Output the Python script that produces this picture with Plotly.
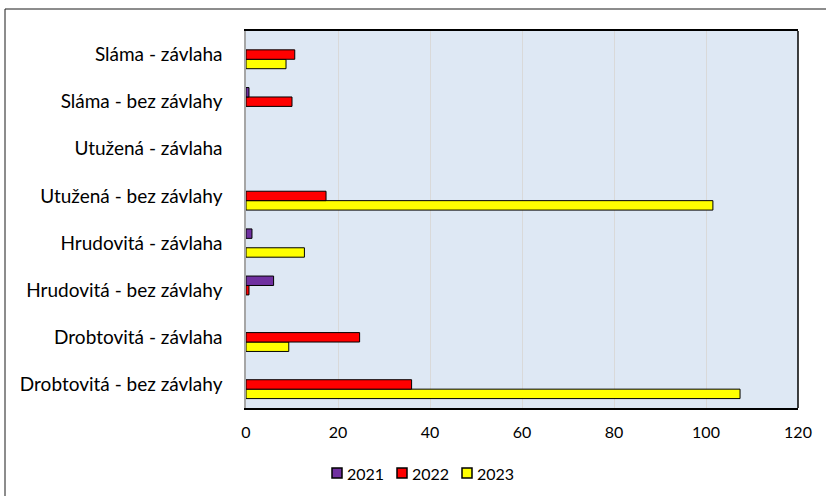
import plotly.graph_objects as go

categories = ["Drobtovitá - bez závlahy", "Drobtovitá - závlaha", "Hrudovitá - bez závlahy",
              "Hrudovitá - závlaha", "Utužená - bez závlahy", "Utužená - závlaha",
              "Sláma - bez závlahy", "Sláma - závlaha"]
v2021 = [None, None, 6.0, 1.3, None, None, 0.65, None]
v2022 = [36.0, 24.7, 0.65, None, 17.4, None, 10.0, 10.6]
v2023 = [107.4, 9.3, None, 12.7, 101.5, None, None, 8.7]
years = ["2021", "2022", "2023"]
colors = ["#7030A0", "#FF0000", "#FFFF00"]
series = [v2021, v2022, v2023]

fig = go.Figure()
for name, vals, col in reversed(list(zip(years, series, colors))):
    fig.add_trace(go.Bar(y=categories, x=vals, name=name, orientation="h", showlegend=False,
                         marker=dict(color=col, line=dict(color="black", width=1))))

W, H = 826, 496
L, R, T, B = 246, 28, 31, 88
pw, ph = W - L - R, H - T - B


def px(x):
    return (x - L) / pw


def py(y):
    return (H - B - y) / ph


shapes = [
    # outer chart frame (runs off the right and bottom edges)
    dict(type="rect", xref="paper", yref="paper",
         x0=px(5), x1=px(W + 10), y0=py(H + 10), y1=py(9),
         line=dict(color="#1A1A1A", width=1), layer="below"),
    # right border of plot area
    dict(type="line", xref="paper", yref="paper", x0=1, x1=1, y0=0, y1=1,
         line=dict(color="black", width=1.5)),
]
annotations = []
# custom legend (Excel-like: small square right next to label)
for i, (name, col) in enumerate(zip(years, colors)):
    x0 = 332 + 65 * i
    shapes.append(dict(type="rect", xref="paper", yref="paper",
                       x0=px(x0), x1=px(x0 + 10), y0=py(478), y1=py(468),
                       fillcolor=col, line=dict(color="black", width=1.5)))
    annotations.append(dict(xref="paper", yref="paper", x=px(x0 + 13), y=py(473),
                            xanchor="left", yanchor="middle", text=name, showarrow=False,
                            font=dict(size=16)))

fig.update_layout(
    width=W, height=H,
    margin=dict(l=L, r=R, t=T, b=B),
    paper_bgcolor="white", plot_bgcolor="#DEE8F4",
    barmode="group", bargap=0.4, bargroupgap=0,
    font=dict(family="Lato, Liberation Sans, sans-serif", size=16, color="black"),
    showlegend=False,
    xaxis=dict(range=[0, 120], dtick=20, showgrid=True, gridcolor="#D9D9D9", gridwidth=1,
               showline=True, linecolor="black", linewidth=1.5, mirror=True, ticks="",
               tickfont=dict(size=16), zeroline=False, ticklabelstandoff=9),
    yaxis=dict(showline=True, linecolor="#A6A6A6", linewidth=1.5, mirror=False,
               tickfont=dict(size=19), ticks="", ticklabelstandoff=18),
    shapes=shapes,
    annotations=annotations,
)
fig.write_html("out.html", config={"displayModeBar": False},
               post_script="document.body.style.margin='0px';")
